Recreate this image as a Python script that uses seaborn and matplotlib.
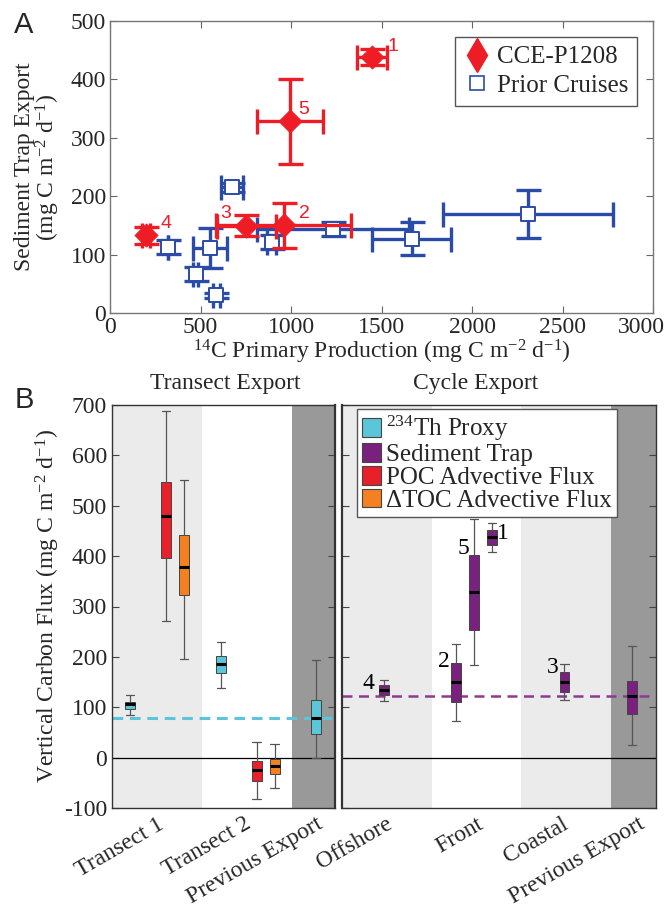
import numpy as np
import pandas as pd
import matplotlib
matplotlib.use("Agg")
import matplotlib.pyplot as plt
import matplotlib.transforms as mtransforms
import seaborn as sns
from matplotlib.patches import Patch
from matplotlib.lines import Line2D

# ---------------- Panel A data ----------------
cce_pp = [1448, 994, 754, 959, 199]
cce_pp_err = [84, 183, 165, 374, 20]
cce_export = [438, 328, 149, 150, 133]
cce_export_err = [14, 73, 18, 39, 15]
cce_labels = ["1", "5", "3", "2", "4"]
cce_label_x = [1561, 1069, 641, 1072, 309]
cce_label_y = [456, 348, 171, 171, 153]

prior_pp = [319, 555, 473, 587, 674, 894, 1233, 1666, 2310]
prior_pp_err = [0, 94, 15, 20, 62, 25, 421, 219, 468]
prior_export = [113, 111, 67, 30, 215, 121, 143, 127, 169]
prior_export_err = [12, 34, 12, 4, 8, 12, 12, 28, 41]

# ---------------- Panel B data ----------------
transect_categories = ["Transect 1", "Transect 2", "Previous Export"]
transect_ticks = [0.5, 1.47, 2.27]
transect_pos = [0.2, 0.6, 0.8, 1.21, 1.61, 1.81, 2.27]
transect_source = ["th", "poc", "toc", "th", "poc", "toc", "th"]
transect_min = [85, 271, 195, 138, -83, -61, -1]
transect_q1 = [97, 397, 322, 167, -47, -33, 46]
transect_med = [106, 479, 378, 185, -25, -17, 79]
transect_q3 = [111, 548, 442, 201, -6, -2, 115]
transect_max = [124, 688, 551, 229, 31, 28, 193]
transect_prev_mean = 79

cycle_categories = ["Offshore", "Front", "Coastal", "Previous Export"]
cycle_ticks = [0.48, 1.5, 2.45, 3.3]
cycle_pos = [0.47, 1.27, 1.47, 1.67, 2.48, 3.23]
cycle_source = ["trap"] * 6
cycle_min = [113, 73, 183, 409, 114, 26]
cycle_q1 = [124, 111, 254, 423, 130, 87]
cycle_med = [134, 150, 328, 438, 150, 122]
cycle_q3 = [144, 188, 402, 452, 169, 152]
cycle_max = [154, 226, 473, 465, 185, 221]
cycle_labels = ["4", "2", "5", "1", "3"]
cycle_label_x = [0.30, 1.13, 1.35, 1.79, 2.35]
cycle_label_y = [147, 190, 415, 445, 179]
cycle_prev_mean = 122

source_names = {"th": "$^{234}$Th Proxy", "trap": "Sediment Trap",
                "poc": "POC Advective Flux", "toc": "\u0394TOC Advective Flux"}
source_colors = {"th": "#5BC5DA", "trap": "#7A207F", "poc": "#E8202A", "toc": "#F48120"}

RED = "#EE1C25"
BLUE = "#2B4BA8"
LIGHT = "#EBEBEB"
DARK = "#999999"

sns.set_theme(style="ticks")
plt.rcParams["font.family"] = ["Liberation Serif", "DejaVu Serif"]
plt.rcParams["mathtext.fontset"] = "custom"
plt.rcParams["mathtext.rm"] = "Liberation Serif"
plt.rcParams["mathtext.it"] = "Liberation Serif:italic"
plt.rcParams["axes.unicode_minus"] = False
plt.rcParams["xtick.direction"] = "in"
plt.rcParams["ytick.direction"] = "in"

FS = 17
LFS = 18

fig = plt.figure(figsize=(6.65, 9.09), dpi=100)
W, H = 665, 909

def rect(l, t, r, b):
    return [l / W, 1 - b / H, (r - l) / W, (b - t) / H]

axA = fig.add_axes(rect(110, 21, 653, 313))
axL = fig.add_axes(rect(112, 405, 335, 808))
axR = fig.add_axes(rect(342, 405, 656, 808))

# ---------------- Panel A ----------------
axA.errorbar(prior_pp, prior_export, xerr=prior_pp_err, yerr=prior_export_err,
             fmt="none", ecolor=BLUE, elinewidth=2.4, capsize=9, capthick=2.4, zorder=2)
sns.scatterplot(x=prior_pp, y=prior_export, marker="s", s=110, color="white",
                edgecolor=BLUE, linewidth=1.4, ax=axA, zorder=3)
axA.errorbar(cce_pp, cce_export, xerr=cce_pp_err, yerr=cce_export_err,
             fmt="none", ecolor=RED, elinewidth=2.4, capsize=9, capthick=2.4, zorder=4)
sns.scatterplot(x=cce_pp, y=cce_export, marker="D", s=140, color=RED,
                edgecolor=RED, linewidth=0.5, ax=axA, zorder=5)
for lab, lx, ly in zip(cce_labels, cce_label_x, cce_label_y):
    axA.text(lx, ly, lab, color=RED, fontsize=14, family="Liberation Sans",
             ha="center", va="center")

axA.set_xlim(0, 3000)
axA.set_ylim(0, 500)
axA.set_xticks(range(0, 3001, 500))
axA.set_yticks(range(0, 501, 100))
axA.tick_params(labelsize=FS, top=True, right=True, length=5, width=0.8,
                color="#666", pad=3)
for s in axA.spines.values():
    s.set_color("#777")
    s.set_linewidth(1.0)
axA.set_xlabel("$^{14}$C Primary Production (mg C m$^{-2}$ d$^{-1}$)", fontsize=FS, labelpad=0)
axA.set_ylabel("Sediment Trap Export\n(mg C m$^{-2}$ d$^{-1}$)", fontsize=FS, labelpad=6,
               linespacing=0.95)
# keep the last x tick label inside the figure, as in the reference
last = axA.get_xticklabels()[-1]
last.set_transform(last.get_transform() +
                   mtransforms.ScaledTranslation(-12 / 100, 0, fig.dpi_scale_trans))

hA = [Line2D([], [], marker="d", color=RED, ls="none", markersize=17),
      Line2D([], [], marker="s", color=BLUE, mfc="white", ls="none", markersize=10,
             markeredgewidth=1.2)]
legA = axA.legend(hA, ["CCE-P1208", "Prior Cruises"], loc="upper right",
                  bbox_to_anchor=(0.97, 0.945), fontsize=LFS, frameon=True, fancybox=False,
                  framealpha=1, edgecolor="#555", borderpad=0.35, labelspacing=0.25,
                  handletextpad=0.3, handlelength=1.0, borderaxespad=0)
legA.get_frame().set_linewidth(1.0)

# ---------------- Panel B ----------------
def draw_boxes(ax, pos, src, mn, q1, md, q3, mx):
    for p, sc, a, b, c, d, e in zip(pos, src, mn, q1, md, q3, mx):
        sns.boxplot(x=[p] * 5, y=[a, b, c, d, e], native_scale=True, orient="x",
                    width=0.11, whis=(0, 100), color=source_colors[sc], saturation=1,
                    linecolor="#444", linewidth=0.7, showfliers=False, ax=ax,
                    medianprops=dict(color="black", linewidth=2.2),
                    whiskerprops=dict(color="#555", linewidth=0.9),
                    capprops=dict(color="#555", linewidth=0.9),
                    capwidths=0.095, zorder=3)

# backgrounds
axL.axvspan(0, 1, color=LIGHT, lw=0, zorder=0)
axL.axvspan(2, 2.6, color=DARK, lw=0, zorder=0)
axR.axvspan(0, 1, color=LIGHT, lw=0, zorder=0)
axR.axvspan(2, 3, color=LIGHT, lw=0, zorder=0)
axR.axvspan(3, 3.6, color=DARK, lw=0, zorder=0)

for ax in (axL, axR):
    ax.axhline(0, color="black", lw=0.9, zorder=1)

axL.axhline(transect_prev_mean, color=source_colors["th"], lw=2.2, ls=(0, (3.5, 2.2)), zorder=1.5)
axR.axhline(cycle_prev_mean, color="#8E3A93", lw=1.8, ls=(0, (4, 2.6)), zorder=1.5)

draw_boxes(axL, transect_pos, transect_source, transect_min, transect_q1,
           transect_med, transect_q3, transect_max)
draw_boxes(axR, cycle_pos, cycle_source, cycle_min, cycle_q1,
           cycle_med, cycle_q3, cycle_max)

for lab, lx, ly in zip(cycle_labels, cycle_label_x, cycle_label_y):
    axR.text(lx, ly, lab, fontsize=FS, ha="center", va="center", color="black")

axL.set_xlim(0, 2.48)
axR.set_xlim(0, 3.5)
for ax in (axL, axR):
    ax.set_ylim(-100, 700)
    ax.set_yticks(range(-100, 701, 100))
    ax.tick_params(axis="y", left=True, right=True, length=5, width=0.8, color="#444",
                   labelsize=FS)
    ax.tick_params(axis="x", length=0, labelsize=FS, pad=4)
    for s in ax.spines.values():
        s.set_color("#333")
        s.set_linewidth(1.0)
    ax.set_xlabel("")
    ax.set_ylabel("")
axL.spines["right"].set_linewidth(1.6)
axR.spines["left"].set_linewidth(1.6)
axR.tick_params(axis="y", labelleft=False)

axL.set_xticks(transect_ticks)
axL.set_xticklabels(transect_categories, rotation=30, ha="right", rotation_mode="anchor")
axR.set_xticks(cycle_ticks)
axR.set_xticklabels(cycle_categories, rotation=30, ha="right", rotation_mode="anchor")

axL.set_ylabel("Vertical Carbon Flux (mg C m$^{-2}$ d$^{-1}$)", fontsize=FS, labelpad=1)

hB = [Patch(facecolor=source_colors[k], edgecolor="#444", linewidth=0.8)
      for k in ["th", "trap", "poc", "toc"]]
legB = axR.legend(hB, [source_names[k] for k in ["th", "trap", "poc", "toc"]],
                  loc="upper left", bbox_to_anchor=(0.049, 0.99), fontsize=LFS,
                  frameon=True, fancybox=False, framealpha=1, edgecolor="#555",
                  borderpad=0.2, labelspacing=0.0, handletextpad=0.2,
                  handlelength=0.75, handleheight=0.75, borderaxespad=0)
legB.get_frame().set_linewidth(1.0)
legB.set_zorder(10)

fig.text(225 / W, 1 - 383 / H, "Transect Export", fontsize=FS, ha="center", va="center")
fig.text(476 / W, 1 - 383 / H, "Cycle Export", fontsize=FS, ha="center", va="center")
fig.text(24 / W, 1 - 25 / H, "A", fontsize=21, family="Liberation Sans", ha="center", va="center")
fig.text(24 / W, 1 - 400 / H, "B", fontsize=21, family="Liberation Sans", ha="center", va="center")

fig.savefig("out.png", dpi=100)
